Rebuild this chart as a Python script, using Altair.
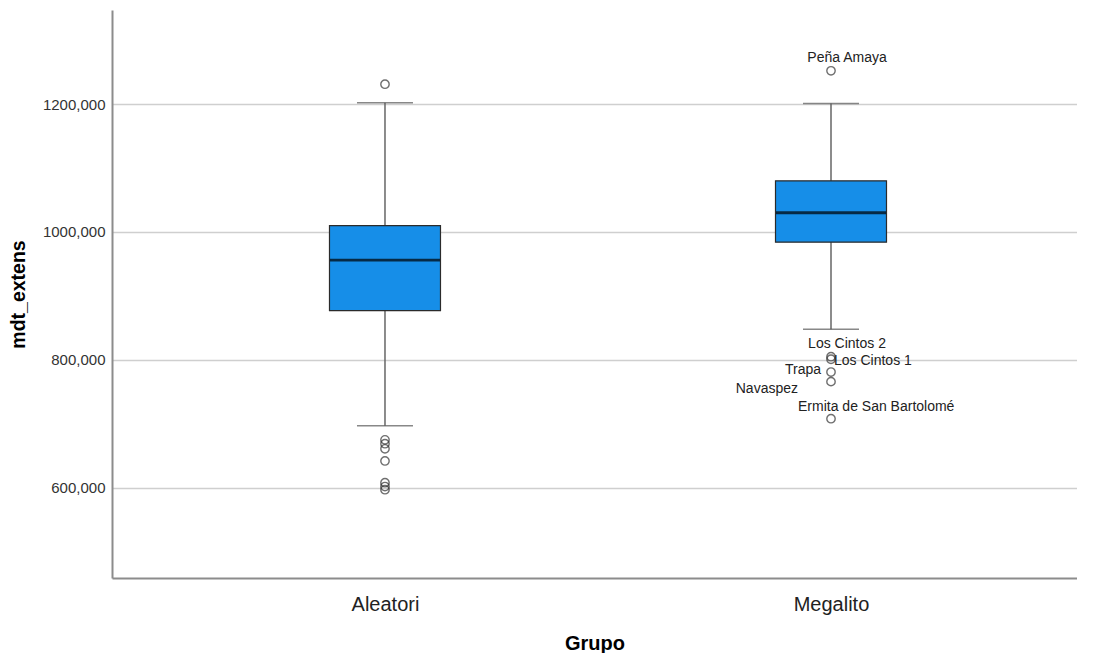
import altair as alt
import pandas as pd

# ---- data ----
groups = ["Aleatori", "Megalito"]
q1 = [877, 984]
median = [956, 1030]
q3 = [1010, 1080]
whisker_low = [697, 848]
whisker_high = [1202, 1201]

out_group = ["Aleatori"] * 8 + ["Megalito"] * 6
out_value = [1231, 675, 669, 661, 642, 608, 602, 597,
             1252, 805, 801, 781, 766, 708]
out_label = [""] * 8 + ["Peña Amaya", "Los Cintos 2", "Los Cintos 1",
                        "Trapa", "Navaspez", "Ermita de San Bartolomé"]

# label placement (style only)
lab_align = ["center", "center", "left", "right", "right", "left"]
lab_dx = [16, 16, 3, -10, -33, -33]
lab_dy = [-13, -13, 2, -2, 7, -12]

box_df = pd.DataFrame({"Grupo": groups, "q1": q1, "median": median, "q3": q3,
                       "lo": whisker_low, "hi": whisker_high})
out_df = pd.DataFrame({"Grupo": out_group, "v": out_value, "label": out_label})

FONT = "Liberation Sans"
xscale = alt.Scale(type="point", domain=groups, padding=0.5818, align=0.526)
yscale = alt.Scale(domain=[459, 1347], nice=False, zero=False)

x = alt.X("Grupo:N", scale=xscale, title="Grupo",
          axis=alt.Axis(labelAngle=0, labelFontSize=20, labelColor="#222222",
                        labelPadding=16, ticks=False, grid=False,
                        titleFontSize=20, titleFontWeight="bold", titlePadding=19,
                        titleColor="#000000", domainColor="#8c8c8c", domainWidth=2))

yaxis = alt.Axis(title="mdt_extens", values=[600, 800, 1000, 1200],
                 labelExpr="replace(format(datum.value, '.3f'), '.', ',')",
                 labelFontSize=15, labelColor="#333333", labelPadding=7,
                 ticks=False, grid=True, gridColor="#cfcfcf", gridWidth=1.5,
                 titleFontSize=19.5, titleFontWeight="bold", titleColor="#000000",
                 titlePadding=14, domainColor="#8c8c8c", domainWidth=2)

base = alt.Chart(box_df)

whisk = base.mark_rule(color="#666666", strokeWidth=1.5).encode(
    x=x, y=alt.Y("lo:Q", scale=yscale, axis=yaxis), y2="hi:Q")

caps_hi = base.mark_tick(color="#555555", size=56, thickness=1.5).encode(
    x=x, y=alt.Y("hi:Q", scale=yscale))
caps_lo = base.mark_tick(color="#555555", size=56, thickness=1.5).encode(
    x=x, y=alt.Y("lo:Q", scale=yscale))

boxes = base.mark_bar(size=111, color="#168ee8", stroke="#2b2b2b",
                      strokeWidth=1.2).encode(
    x=x, y=alt.Y("q1:Q", scale=yscale), y2="q3:Q")

med = base.mark_tick(color="#000000", size=110, thickness=2.8).encode(
    x=x, y=alt.Y("median:Q", scale=yscale))

pts = alt.Chart(out_df).mark_point(shape="circle", size=70, filled=False,
                                   color="#333333", strokeWidth=1.4).encode(
    x=x, y=alt.Y("v:Q", scale=yscale))

lab_df = out_df[out_df["label"] != ""].reset_index(drop=True)
texts = []
for i, row in lab_df.iterrows():
    t = alt.Chart(pd.DataFrame([row])).mark_text(
        font=FONT, fontSize=14, color="#222222", align=lab_align[i],
        baseline="middle", dx=lab_dx[i], dy=lab_dy[i]).encode(
        x=x, y=alt.Y("v:Q", scale=yscale), text="label:N")
    texts.append(t)

chart = alt.layer(whisk, caps_hi, caps_lo, boxes, med, pts, *texts).properties(
    width=965, height=568,
    padding={"left": 0, "top": 2, "right": 0, "bottom": 0},
).configure(font=FONT).configure_view(stroke=None)

chart.save("out.html", embed_options={"renderer": "svg", "actions": False})
